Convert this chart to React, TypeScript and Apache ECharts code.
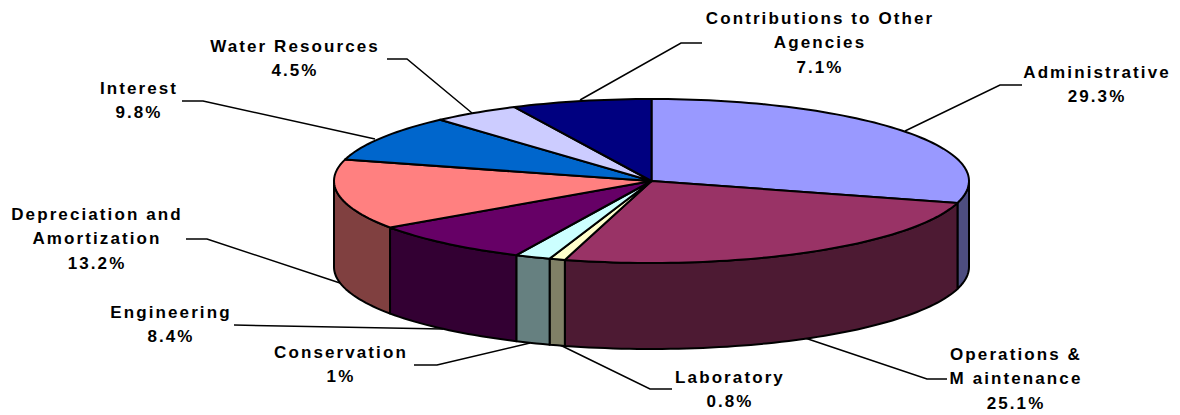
import React, { useEffect, useRef } from "react";
import * as echarts from "echarts";

const categories = ["Administrative", "Operations &\nM aintenance", "Laboratory", "Conservation", "Engineering", "Depreciation and\nAmortization", "Interest", "Water Resources", "Contributions to Other\nAgencies"];
const percentLabels = ["29.3%", "25.1%", "0.8%", "1%", "8.4%", "13.2%", "9.8%", "4.5%", "7.1%"];
// Slice shares as drawn in the picture
const sliceShares = [29.3, 25.1, 0.8, 1.8, 8.4, 13.8, 9.2, 4.5, 7.1];
const topColors = ["#9999ff", "#993366", "#ffffcc", "#ccffff", "#660066", "#ff8080", "#0066cc", "#ccccff", "#000080"];
const sideColors = ["#4d4d80", "#4d1a33", "#808066", "#668080", "#330033", "#804040", "#003366", "#666680", "#000040"];
const labelCenters = [[1097, 60], [1016, 342], [730, 365], [341, 340], [171, 300], [97, 202], [139, 76], [295, 34], [820, 6]];
const leaderLines = [
  [[905, 131], [1000, 85], [1022, 85]],
  [[805, 338], [927, 379], [947, 379]],
  [[560, 345], [650, 389], [672, 389]],
  [[530, 343], [437, 365], [414, 365]],
  [[443, 329], [234, 325]],
  [[340, 283], [207, 239], [186, 239]],
  [[375, 139], [203, 101], [182, 101]],
  [[472, 113], [407, 59], [387, 59]],
  [[580, 100], [681, 43], [702, 43]],
];

const CX = 651.5, CY = 181, RX = 317.5, RY = 82, DEPTH = 86;
const total = sliceShares.reduce((a, b) => a + b, 0);
const pt = (deg: number, dy = 0) => {
  const r = (deg * Math.PI) / 180;
  return [CX + RX * Math.sin(r), CY - RY * Math.cos(r) + dy];
};
const arc = (a: number, b: number, dy = 0) => {
  const n = Math.max(2, Math.ceil(Math.abs(b - a) / 1.5));
  const out: number[][] = [];
  for (let i = 0; i <= n; i++) out.push(pt(a + ((b - a) * i) / n, dy));
  return out;
};

function renderItem(params: any, api: any) {
  const i = params.dataIndex;
  const before = sliceShares.slice(0, i).reduce((a, b) => a + b, 0);
  const start = (before / total) * 360;
  const end = start + (api.value(0) / total) * 360;
  const children: any[] = [];
  const a = Math.max(start, 90), b = Math.min(end, 270);
  const line = { stroke: "#000", lineWidth: 2, lineJoin: "round" };
  if (b > a) {
    children.push({
      type: "polygon",
      shape: { points: [...arc(a, b), ...arc(b, a, DEPTH)] },
      style: { fill: sideColors[i], ...line },
    });
  }
  children.push({
    type: "polygon",
    shape: { points: [[CX, CY], ...arc(start, end)] },
    style: { fill: topColors[i], ...line },
  });
  return { type: "group", children };
}

export default function App() {
  const ref = useRef<HTMLDivElement>(null);
  useEffect(() => {
    document.body.style.margin = "0";
    const chart = echarts.init(ref.current!, null, { renderer: "svg" });
    chart.setOption({
      animation: false,
      backgroundColor: "#fff",
      graphic: {
        elements: [
          ...leaderLines.map((points) => ({
            type: "polyline",
            z: 1,
            shape: { points },
            style: { stroke: "#000", lineWidth: 1.5, fill: "none" },
          })),
          ...categories.map((c, i) => ({
            type: "text",
            z: 3,
            x: labelCenters[i][0],
            y: labelCenters[i][1],
            style: {
              text: c + "\n" + percentLabels[i],
              align: "center",
              verticalAlign: "top",
              fill: "#000",
              font: 'bold 17px "Liberation Sans", Arial, sans-serif',
              lineHeight: 24.4,
            },
          })),
        ],
      },
      series: [
        {
          type: "custom",
          coordinateSystem: "none",
          z: 2,
          clip: false,
          silent: true,
          data: sliceShares.map((v, i) => ({ value: [v], name: categories[i] })),
          renderItem,
        },
      ],
    });
    return () => chart.dispose();
  }, []);
  return (
    <>
      <style>{`#chart svg text { letter-spacing: 2.1px; }`}</style>
      <div id="chart" ref={ref} style={{ width: 1180, height: 415 }} />
    </>
  );
}
